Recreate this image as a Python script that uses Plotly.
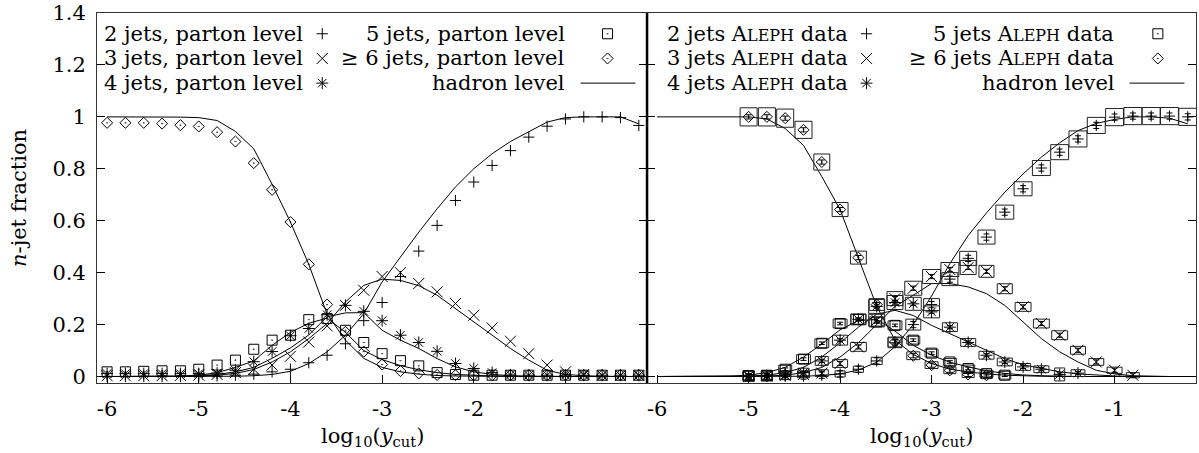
import plotly.graph_objects as go

# log10(ycut) grid of the parton / hadron level predictions
x_grid = [-6.0, -5.8, -5.6, -5.4, -5.2, -5.0, -4.8, -4.6, -4.4, -4.2,
          -4.0, -3.8, -3.6, -3.4, -3.2, -3.0, -2.8, -2.6, -2.4, -2.2,
          -2.0, -1.8, -1.6, -1.4, -1.2, -1.0, -0.8, -0.6, -0.4, -0.2]
# log10(ycut) of the ALEPH measurements
x_aleph = [-5.0, -4.8, -4.6, -4.4, -4.2, -4.0, -3.8, -3.6, -3.4, -3.2,
           -3.0, -2.8, -2.6, -2.4, -2.2, -2.0, -1.8, -1.6, -1.4, -1.2,
           -1.0, -0.8, -0.6, -0.4, -0.2]

# left panel: parton level
parton_2 = [0, 0, 0, 0, 0, 0, 0.002, 0.005, 0.009, 0.018, 0.028, 0.053, 0.082, 0.126, 0.215,
            0.285, 0.385, 0.483, 0.582, 0.678, 0.749, 0.813, 0.87, 0.922, 0.964, 0.992, 1.0, 1.0, 0.997, 0.967]
parton_3 = [0.003, 0.003, 0.003, 0.003, 0.004, 0.005, 0.008, 0.015, 0.028, 0.044, 0.078, 0.133, 0.195, 0.274, 0.332,
            0.385, 0.4, 0.358, 0.326, 0.281, 0.236, 0.187, 0.136, 0.088, 0.044, 0.018, 0.008, 0.004, 0.004, 0.004]
parton_4 = [0.011, 0.011, 0.011, 0.011, 0.011, 0.011, 0.013, 0.024, 0.057, 0.096, 0.157, 0.185, 0.238, 0.274, 0.251,
            0.215, 0.159, 0.131, 0.097, 0.05, 0.031, 0.015, 0.006, 0.005, 0.005, 0.005, 0.005, 0.005, 0.005, 0.005]
parton_5 = [0.018, 0.018, 0.02, 0.022, 0.022, 0.028, 0.044, 0.063, 0.105, 0.14, 0.159, 0.219, 0.223, 0.178, 0.131,
            0.088, 0.061, 0.041, 0.015, 0.008, 0.005, 0.005, 0.005, 0.005, 0.005, 0.005, 0.005, 0.005, 0.005, 0.005]
parton_6 = [0.977, 0.977, 0.977, 0.974, 0.968, 0.963, 0.941, 0.905, 0.822, 0.719, 0.595, 0.432, 0.277, 0.172, 0.096,
            0.046, 0.021, 0.012, 0.006, 0.005, 0.005, 0.005, 0.005, 0.005, 0.005, 0.005, 0.005, 0.005, 0.005, 0.005]

# left panel: hadron level
hadron_l2 = [0, 0, 0, 0, 0, 0, 0, 0.001, 0.003, 0.008, 0.02, 0.05, 0.095, 0.159, 0.242,
             0.364, 0.46, 0.556, 0.646, 0.73, 0.8, 0.858, 0.905, 0.944, 0.98, 0.997, 1.0, 1.0, 1.0, 0.973]
hadron_l3 = [0, 0, 0, 0, 0, 0.002, 0.005, 0.012, 0.027, 0.056, 0.095, 0.146, 0.204, 0.287, 0.351,
             0.375, 0.37, 0.35, 0.313, 0.262, 0.21, 0.159, 0.108, 0.063, 0.024, 0.008, 0.003, 0.001, 0, 0]
hadron_l4 = [0, 0, 0, 0, 0, 0.003, 0.008, 0.018, 0.035, 0.07, 0.11, 0.16, 0.23, 0.245, 0.246,
             0.178, 0.14, 0.108, 0.069, 0.037, 0.018, 0.008, 0.003, 0.001, 0, 0, 0, 0, 0, 0]
hadron_l5 = [0, 0, 0, 0, 0.001, 0.005, 0.015, 0.035, 0.06, 0.12, 0.17, 0.205, 0.225, 0.17, 0.1,
             0.065, 0.042, 0.026, 0.015, 0.008, 0.004, 0.002, 0.001, 0, 0, 0, 0, 0, 0, 0]
hadron_l6 = [1, 1, 1, 1, 0.999, 0.997, 0.986, 0.944, 0.877, 0.74, 0.595, 0.432, 0.24, 0.14, 0.07,
             0.035, 0.018, 0.009, 0.004, 0.002, 0.001, 0, 0, 0, 0, 0, 0, 0, 0, 0]

# right panel: hadron level
hadron_r2 = [0, 0, 0, 0, 0, 0, 0, 0, 0.001, 0.004, 0.01, 0.025, 0.055, 0.115, 0.2,
             0.31, 0.435, 0.543, 0.63, 0.71, 0.78, 0.845, 0.9, 0.947, 0.975, 0.99, 1.0, 1.0, 0.995, 0.973]
hadron_r3 = [0, 0, 0, 0, 0, 0.001, 0.002, 0.005, 0.015, 0.035, 0.075, 0.13, 0.2, 0.27, 0.313,
             0.358, 0.358, 0.345, 0.319, 0.274, 0.21, 0.146, 0.095, 0.056, 0.024, 0.01, 0.003, 0.001, 0, 0]
hadron_r4 = [0, 0, 0, 0, 0, 0.001, 0.005, 0.015, 0.035, 0.075, 0.13, 0.19, 0.24, 0.255, 0.235,
             0.197, 0.165, 0.133, 0.1, 0.069, 0.045, 0.031, 0.018, 0.01, 0.005, 0.002, 0, 0, 0, 0]
hadron_r5 = [0, 0, 0, 0, 0.001, 0.005, 0.015, 0.035, 0.075, 0.125, 0.18, 0.215, 0.22, 0.175, 0.12,
             0.082, 0.055, 0.037, 0.022, 0.012, 0.006, 0.003, 0.001, 0, 0, 0, 0, 0, 0, 0]
hadron_r6 = [1, 1, 1, 1, 1, 1.0, 0.992, 0.955, 0.89, 0.77, 0.643, 0.458, 0.27, 0.14, 0.085,
             0.05, 0.028, 0.018, 0.01, 0.005, 0.002, 0.001, 0, 0, 0, 0, 0, 0, 0, 0]

# right panel: ALEPH data, with box half widths / half heights and stat. errors
aleph_2 = [0.0, 0.0, 0.001, 0.002, 0.005, 0.01, 0.028, 0.06, 0.13, 0.2, 0.277, 0.375, 0.455,
           0.537, 0.633, 0.723, 0.803, 0.864, 0.915, 0.967, 0.999, 1.003, 1.003, 1.003, 1.0]
aleph_2_dx = [0, 0, 0, 0, 0, 0.055, 0.055, 0.06, 0.076, 0.082, 0.087, 0.087, 0.093,
              0.093, 0.098, 0.098, 0.098, 0.098, 0.098, 0.098, 0.098, 0.098, 0.098, 0.098, 0.098]
aleph_2_dy = [0, 0, 0, 0, 0, 0.012, 0.012, 0.014, 0.019, 0.021, 0.023, 0.025, 0.027,
              0.027, 0.027, 0.027, 0.029, 0.029, 0.031, 0.031, 0.033, 0.033, 0.033, 0.033, 0.033]
aleph_2_err = 0.012

aleph_3 = [0.001, 0.002, 0.004, 0.008, 0.013, 0.05, 0.114, 0.217, 0.3, 0.34, 0.385, 0.412, 0.42,
           0.405, 0.338, 0.268, 0.204, 0.159, 0.101, 0.056, 0.024, 0.005, None, None, None]
aleph_3_dx = [0.06, 0.06, 0.06, 0.066, 0.071, 0.082, 0.087, 0.087, 0.087, 0.093, 0.098, 0.098, 0.087,
              0.082, 0.082, 0.087, 0.087, 0.087, 0.082, 0.082, 0.082, 0.071, None, None, None]
aleph_3_dy = [0.019, 0.019, 0.015, 0.013, 0.013, 0.015, 0.017, 0.023, 0.027, 0.027, 0.027, 0.027, 0.027,
              0.023, 0.019, 0.017, 0.017, 0.017, 0.015, 0.013, 0.012, 0.01, None, None, None]
aleph_3_err = 0.008

aleph_4 = [0.002, 0.003, 0.005, 0.015, 0.06, 0.14, 0.22, 0.27, 0.285, 0.28, 0.249, 0.19, 0.131,
           0.082, 0.056, 0.037, 0.028, 0.008, 0.013, None, None, None, None, None, None]
aleph_4_dx = [0.06, 0.06, 0.06, 0.06, 0.071, 0.082, 0.082, 0.087, 0.087, 0.087, 0.087, 0.082, 0.082,
              0.082, 0.082, 0.082, 0.082, 0.055, 0.076, None, None, None, None, None, None]
aleph_4_dy = [0.019, 0.019, 0.017, 0.017, 0.017, 0.019, 0.021, 0.027, 0.027, 0.025, 0.023, 0.017, 0.015,
              0.015, 0.015, 0.013, 0.013, 0.025, 0.013, None, None, None, None, None, None]
aleph_4_err = 0.006

aleph_5 = [0.003, 0.005, 0.028, 0.067, 0.128, 0.204, 0.22, 0.21, 0.197, 0.14, 0.09, 0.056, 0.031,
           0.011, 0.005, None, None, None, None, None, None, None, None, None, None]
aleph_5_dx = [0.06, 0.06, 0.071, 0.076, 0.076, 0.076, 0.082, 0.082, 0.076, 0.071, 0.071, 0.071, 0.071,
              0.071, 0.066, None, None, None, None, None, None, None, None, None, None]
aleph_5_dy = [0.019, 0.017, 0.015, 0.017, 0.017, 0.017, 0.019, 0.019, 0.017, 0.015, 0.015, 0.013, 0.013,
              0.013, 0.015, None, None, None, None, None, None, None, None, None, None]
aleph_5_err = 0.005

aleph_6 = [1.0, 1.0, 0.995, 0.95, 0.826, 0.643, 0.458, 0.277, 0.133, 0.08, 0.044, 0.024, 0.008,
           0.005, None, None, None, None, None, None, None, None, None, None, None]
aleph_6_dx = [0.093, 0.093, 0.093, 0.093, 0.087, 0.087, 0.087, 0.082, 0.076, 0.071, 0.071, 0.066, 0.066,
              0.066, None, None, None, None, None, None, None, None, None, None, None]
aleph_6_dy = [0.035, 0.035, 0.035, 0.033, 0.031, 0.027, 0.025, 0.023, 0.019, 0.015, 0.013, 0.013, 0.012,
              0.012, None, None, None, None, None, None, None, None, None, None, None]
aleph_6_err = 0.008

y_ticks = [0, 0.2, 0.4, 0.6, 0.8, 1.0, 1.2, 1.4]
y_tick_text = ["0", "0.2", "0.4", "0.6", "0.8", "1", "1.2", "1.4"]
x_ticks = [-6, -5, -4, -3, -2, -1]
x_tick_text = ["-6", "-5", "-4", "-3", "-2", "-1"]

FONT = "DejaVu Serif"
FS = 21
SMALLCAPS = 'A<span style="font-size:16px">LEPH</span>'
XTITLE = "log<sub>10</sub>(<i>y</i><sub>cut</sub>)"
YTITLE = "<i>n</i>-jet fraction"

# marker symbol and size per jet multiplicity
markers = {
    2: ("cross-thin-open", 8),
    3: ("x-thin-open", 11),
    4: ("asterisk-open", 10),
    5: ("square-open-dot", 10),
    6: ("diamond-open-dot", 8.5),
}


def marker_style(n):
    sym, size = markers[n]
    return dict(symbol=sym, size=size, color="black", line=dict(color="black", width=1))


def box_outline(xs, ys, dxs, dys):
    px, py = [], []
    for x, y, dx, dy in zip(xs, ys, dxs, dys):
        if y is None or not dx:
            continue
        px += [x - dx, x + dx, x + dx, x - dx, x - dx, None]
        py += [y - dy, y - dy, y + dy, y + dy, y - dy, None]
    return px, py


def txt(**kw):
    return dict(showarrow=False, font=dict(family=FONT, size=FS, color="black"), **kw)


fig = go.Figure()

parton = {2: parton_2, 3: parton_3, 4: parton_4, 5: parton_5, 6: parton_6}
hadron_left = [hadron_l2, hadron_l3, hadron_l4, hadron_l5, hadron_l6]
hadron_right = [hadron_r2, hadron_r3, hadron_r4, hadron_r5, hadron_r6]
aleph = {
    2: (aleph_2, aleph_2_dx, aleph_2_dy, aleph_2_err),
    3: (aleph_3, aleph_3_dx, aleph_3_dy, aleph_3_err),
    4: (aleph_4, aleph_4_dx, aleph_4_dy, aleph_4_err),
    5: (aleph_5, aleph_5_dx, aleph_5_dy, aleph_5_err),
    6: (aleph_6, aleph_6_dx, aleph_6_dy, aleph_6_err),
}

for h in hadron_left:
    fig.add_trace(go.Scatter(x=x_grid, y=h, mode="lines", line=dict(color="black", width=1),
                             xaxis="x", yaxis="y"))
for n, vals in parton.items():
    fig.add_trace(go.Scatter(x=x_grid, y=vals, mode="markers", marker=marker_style(n),
                             xaxis="x", yaxis="y"))

for h in hadron_right:
    fig.add_trace(go.Scatter(x=x_grid, y=h, mode="lines", line=dict(color="black", width=1),
                             xaxis="x2", yaxis="y2"))
for n, (vals, dx, dy, err) in aleph.items():
    bx, by = box_outline(x_aleph, vals, dx, dy)
    fig.add_trace(go.Scatter(x=bx, y=by, mode="lines", line=dict(color="#222", width=1),
                             xaxis="x2", yaxis="y2"))
    fig.add_trace(go.Scatter(x=x_aleph, y=vals, mode="markers", marker=marker_style(n),
                             error_y=dict(type="constant", value=err, color="black",
                                          thickness=1, width=3),
                             xaxis="x2", yaxis="y2"))

# in-plot keys (gnuplot style: text right aligned, symbol on the right)
key_rows = [1.32, 1.225, 1.13]
left_keys = [
    ("2 jets, parton level", 2, -3.838, -3.653, key_rows[0]),
    ("3 jets, parton level", 3, -3.838, -3.653, key_rows[1]),
    ("4 jets, parton level", 4, -3.838, -3.653, key_rows[2]),
    ("5 jets, parton level", 5, -0.978, -0.541, key_rows[0]),
    ("≥ 6 jets, parton level", 6, -0.978, -0.541, key_rows[1]),
]
right_keys = [
    ("2 jets " + SMALLCAPS + " data", 2, -3.893, -3.711, key_rows[0]),
    ("3 jets " + SMALLCAPS + " data", 3, -3.893, -3.711, key_rows[1]),
    ("4 jets " + SMALLCAPS + " data", 4, -3.893, -3.711, key_rows[2]),
    ("5 jets " + SMALLCAPS + " data", 5, -0.981, -0.527, key_rows[0]),
    ("≥ 6 jets " + SMALLCAPS + " data", 6, -0.981, -0.527, key_rows[1]),
]
annotations = []
for keys, xa, ya in [(left_keys, "x", "y"), (right_keys, "x2", "y2")]:
    for text, n, tx, sx, ry in keys:
        annotations.append(txt(text=text, x=tx, y=ry, xref=xa, yref=ya,
                               xanchor="right", yanchor="middle"))
        fig.add_trace(go.Scatter(x=[sx], y=[ry], mode="markers", marker=marker_style(n),
                                 xaxis=xa, yaxis=ya))
    annotations.append(txt(text="hadron level", x=-0.978, y=key_rows[2], xref=xa, yref=ya,
                           xanchor="right", yanchor="middle"))
    fig.add_trace(go.Scatter(x=[-0.836, -0.236], y=[key_rows[2], key_rows[2]], mode="lines",
                             line=dict(color="black", width=1), xaxis=xa, yaxis=ya))

# axis titles
annotations.append(txt(text=XTITLE, x=0.5, y=-0.145, xref="x domain", yref="paper",
                       xanchor="center", yanchor="middle"))
annotations.append(txt(text=XTITLE, x=0.5, y=-0.145, xref="x2 domain", yref="paper",
                       xanchor="center", yanchor="middle"))
annotations.append(txt(text=YTITLE, x=-0.071, y=0.5, xref="paper", yref="paper",
                       xanchor="center", yanchor="middle", textangle=-90))

split = 0.5005
xaxis_common = dict(range=[-6.11, -0.11], tickvals=x_ticks, ticktext=x_tick_text,
                    ticks="inside", ticklen=8, tickcolor="black", showgrid=False, zeroline=False,
                    showline=True, linecolor="#333", linewidth=1, mirror=True, automargin=False,
                    tickfont=dict(family=FONT, size=FS, color="black"), ticklabelstandoff=7)
yaxis_common = dict(range=[-0.025, 1.4], tickvals=y_ticks, ticktext=y_tick_text,
                    ticks="inside", ticklen=8, tickcolor="black", showgrid=False, zeroline=False,
                    showline=True, linecolor="#333", linewidth=1, mirror="ticks", automargin=False,
                    tickfont=dict(family=FONT, size=FS, color="black"))

fig.update_layout(
    width=1199, height=453,
    margin=dict(l=97, r=3, t=13, b=70),
    paper_bgcolor="white", plot_bgcolor="white",
    xaxis=dict(domain=[0, split], anchor="y", **xaxis_common),
    xaxis2=dict(domain=[split, 1], anchor="y2", **xaxis_common),
    yaxis=dict(domain=[0, 1], anchor="x", ticklabelstandoff=6, **yaxis_common),
    yaxis2=dict(domain=[0, 1], anchor="x2", showticklabels=False, **yaxis_common),
    annotations=annotations,
    shapes=[dict(type="line", xref="paper", yref="paper", x0=split, x1=split, y0=0, y1=1,
                 line=dict(color="black", width=2.5))],
    showlegend=False,
)

# the page body has a default margin; drop it so the figure sits at the window corner
fig.write_html("out.html", config={"displayModeBar": False},
               post_script="document.body.style.margin='0';")
